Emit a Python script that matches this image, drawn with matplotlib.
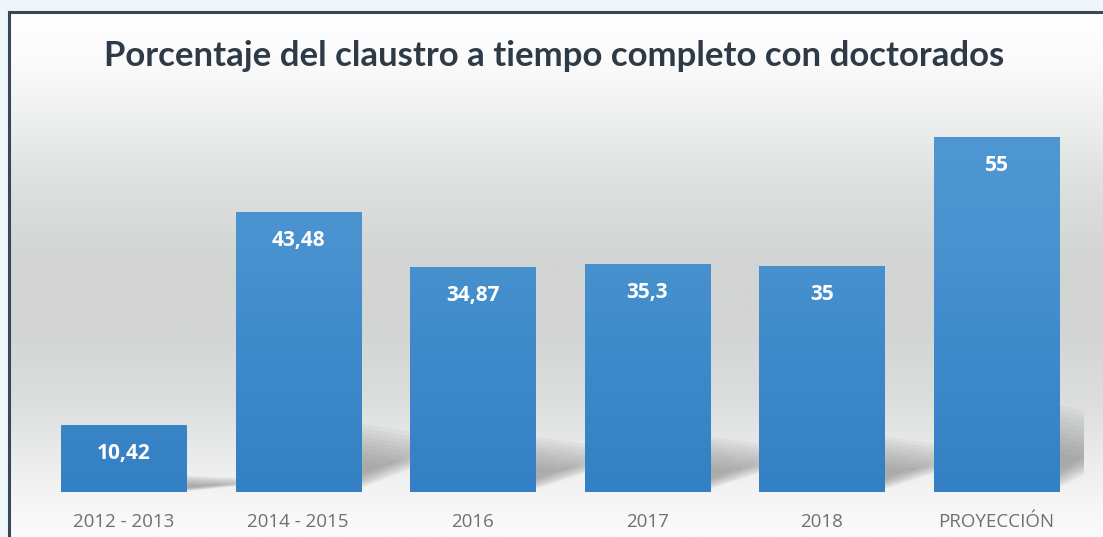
import numpy as np
import matplotlib
matplotlib.use("Agg")
import matplotlib.pyplot as plt
from matplotlib.colors import LinearSegmentedColormap
from matplotlib.patches import Polygon

# Data
categories = ["2012 - 2013", "2014 - 2015", "2016", "2017", "2018", "PROYECCIÓN"]
values = [10.42, 43.48, 34.87, 35.3, 35, 55]
value_labels = ["10,42", "43,48", "34,87", "35,3", "35", "55"]
title = "Porcentaje del claustro a tiempo completo con doctorados"

W, H = 1103, 537
fig = plt.figure(figsize=(W / 100, H / 100), dpi=100)
fig.patch.set_facecolor("#eef6f9")

# Background panel with vertical grey gradient
bg = fig.add_axes([8 / W, 0, 1 - 8 / W, (H - 12) / H])
bg_cmap = LinearSegmentedColormap.from_list(
    "bg",
    [
        (0.00, "#ffffff"),
        (0.09, "#fbfbfb"),
        (0.17, "#f2f3f3"),
        (0.32, "#dfe0e0"),
        (0.47, "#d3d4d4"),
        (0.60, "#d3d4d4"),
        (0.74, "#dcdddd"),
        (0.84, "#e9eaea"),
        (0.92, "#f4f4f4"),
        (1.00, "#fbfbfb"),
    ],
)
bg.imshow(np.linspace(0, 1, 256).reshape(-1, 1), aspect="auto", cmap=bg_cmap,
          extent=[0, 1, 1, 0])
bg.set_xlim(0, 1)
bg.set_ylim(1, 0)
bg.axis("off")
# frame lines (left and top)
fig.add_artist(plt.Line2D([8.5 / W, 8.5 / W], [0, (H - 12) / H], color="#3b4752", lw=2.2))
fig.add_artist(plt.Line2D([8.5 / W, 1], [(H - 12) / H, (H - 12) / H], color="#3b4752", lw=2.2))

# Main axes
ax = fig.add_axes([36.2 / W, 45 / H, 1047.6 / W, 387 / H])
ax.set_xlim(-0.5, 5.5)
ax.set_ylim(0, 60)
ax.patch.set_alpha(0)
for s in ax.spines.values():
    s.set_visible(False)

x = np.arange(len(categories))
bar_w = 0.716

# soft floor shadows to the right of each bar
for xi, v in zip(x, values):
    r = xi + bar_w / 2
    hs = 0.25 * v
    for k in range(10):
        f = 1 - k * 0.06
        poly = Polygon(
            [(r - 0.05, 0.3 * (1 - f) * hs), (r - 0.05, hs * f), (r + 0.40 * f, hs * 0.8 * f),
             (r + 0.40 * f, hs * 0.45)],
            closed=True, facecolor="#6e6e6e", edgecolor="none", alpha=0.065, zorder=1,
        )
        ax.add_patch(poly)

bars = ax.bar(x, values, width=bar_w, color="#3f8bcb", zorder=2)

bar_cmap = LinearSegmentedColormap.from_list("bar", ["#3480c4", "#3d89c9", "#4a93d0", "#4f98d3"])
for b in bars:
    x0 = b.get_x()
    im = ax.imshow(np.linspace(1, 0, 128).reshape(-1, 1), aspect="auto", cmap=bar_cmap,
                   extent=[x0, x0 + b.get_width(), 0, 60], zorder=3, interpolation="bicubic")
    im.set_clip_path(b)

ax.set_xlim(-0.5, 5.5)
ax.set_ylim(0, 60)

for xi, v, lab in zip(x, values, value_labels):
    ax.annotate(lab, (xi, v), xytext=(0, -20.5), textcoords="offset points",
                ha="center", va="center", color="white", fontsize=15,
                fontweight="bold", family="Open Sans", zorder=4)

ax.set_yticks([])
ax.set_xticks(x)
ax.set_xticklabels(categories, family="Open Sans", fontsize=13.5, color="#707070")
ax.tick_params(axis="x", length=0, pad=15)

fig.text(554 / W, 1 - 56 / H, title, ha="center", va="center", fontsize=25,
         fontweight="bold", color="#2e3b46", family="Lato")

fig.savefig("out.png", dpi=100)
